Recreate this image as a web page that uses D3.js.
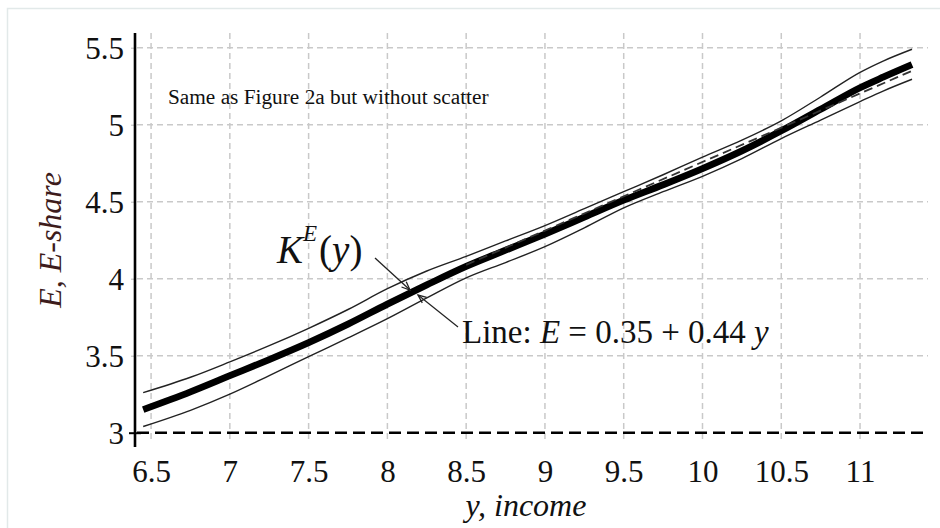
<!DOCTYPE html>
<html>
<head>
<meta charset="utf-8">
<script src="https://cdn.jsdelivr.net/npm/d3@7"></script>
<style>
  html, body { margin: 0; padding: 0; background: #fff; }
  svg { display: block; }
  text { font-family: "Liberation Serif", "Times New Roman", serif; }
</style>
</head>
<body>
<svg id="chart" width="940" height="528"></svg>
<script>
// ---- data ----
const incomeX   = [6.45, 6.75, 7, 7.25, 7.5, 7.75, 8, 8.25, 8.5, 8.75, 9, 9.25, 9.5, 9.75, 10, 10.25, 10.5, 10.75, 11, 11.15, 11.33];
const kernelE   = [3.15, 3.265, 3.37, 3.475, 3.585, 3.705, 3.835, 3.96, 4.08, 4.185, 4.29, 4.40, 4.51, 4.61, 4.715, 4.83, 4.96, 5.10, 5.24, 5.31, 5.39];
const upperE    = [3.26, 3.36, 3.46, 3.565, 3.678, 3.80, 3.935, 4.05, 4.145, 4.245, 4.345, 4.455, 4.565, 4.675, 4.79, 4.90, 5.025, 5.18, 5.34, 5.415, 5.49];
const lowerE    = [3.04, 3.145, 3.25, 3.37, 3.494, 3.615, 3.74, 3.875, 4.005, 4.105, 4.208, 4.33, 4.46, 4.565, 4.665, 4.78, 4.91, 5.03, 5.15, 5.22, 5.295];
const fitLineX  = [8.5, 11.33];
const fitLineE  = [4.09, 5.35];
const xTicks    = [6.5, 7, 7.5, 8, 8.5, 9, 9.5, 10, 10.5, 11];
const yTicks    = [3, 3.5, 4, 4.5, 5, 5.5];
const titleText = "Same as Figure 2a but without scatter";
const xLabel    = "y, income";
const yLabel    = "E, E-share";

const svg = d3.select("#chart");

// outer frame
svg.append("rect").attr("x", 7.5).attr("y", 8.5).attr("width", 940).attr("height", 530)
  .attr("fill", "none").attr("stroke", "#e2e9e9").attr("stroke-width", 1.5);

const x = d3.scaleLinear().domain([6.398, 11.425]).range([135, 927]);
const y = d3.scaleLinear().domain([3, 5.5]).range([432.7, 47.7]);

// grid
const grid = svg.append("g");
grid.selectAll("line.v").data(xTicks).join("line")
  .attr("x1", d => x(d)).attr("x2", d => x(d)).attr("y1", 33).attr("y2", 441)
  .attr("stroke", "#c9c9c9").attr("stroke-width", 1.5).attr("stroke-dasharray", "6,4");
grid.selectAll("line.h").data(yTicks.filter(d => d > 3)).join("line")
  .attr("x1", 137).attr("x2", 928).attr("y1", d => y(d)).attr("y2", d => y(d))
  .attr("stroke", "#c9c9c9").attr("stroke-width", 1.5).attr("stroke-dasharray", "6,4");

// baseline at E = 3 (dashed)
svg.append("line").attr("x1", 137).attr("x2", 927).attr("y1", y(3)).attr("y2", y(3))
  .attr("stroke", "#000").attr("stroke-width", 2.6).attr("stroke-dasharray", "12,6");

// y axis
const yAxis = d3.axisLeft(y).tickValues(yTicks).tickSize(5).tickFormat(d3.format("~g"));
const yg = svg.append("g").attr("transform", "translate(135,0)").call(yAxis);
yg.select(".domain").remove();
yg.selectAll(".tick line").attr("stroke", "#bbb").attr("x2", -4);
yg.selectAll(".tick text").attr("font-size", 31).attr("fill", "#111")
  .attr("font-family", "Liberation Serif, serif").attr("x", -11).attr("dy", "0.36em");
yg.selectAll(".tick").filter(d => d === 3).select("line").attr("stroke", "#000").attr("stroke-width", 2).attr("x1", 6).attr("x2", -6);
svg.append("line").attr("x1", 135).attr("x2", 135).attr("y1", 33).attr("y2", 447)
  .attr("stroke", "#000").attr("stroke-width", 2.6);

// x axis labels
const xAxis = d3.axisBottom(x).tickValues(xTicks).tickSize(0).tickFormat(d3.format("~g"));
const xg = svg.append("g").attr("transform", "translate(0," + 453 + ")").call(xAxis);
xg.select(".domain").remove();
xg.selectAll(".tick text").attr("font-size", 31).attr("fill", "#111")
  .attr("font-family", "Liberation Serif, serif").attr("y", 0).attr("dy", "0.95em");

// series
const pts = (xs, ys) => xs.map((v, i) => [v, ys[i]]);
const line = d3.line().x(d => x(d[0])).y(d => y(d[1])).curve(d3.curveMonotoneX);

svg.append("path").datum(pts(incomeX, upperE)).attr("d", line)
  .attr("fill", "none").attr("stroke", "#222").attr("stroke-width", 1.4);
svg.append("path").datum(pts(incomeX, lowerE)).attr("d", line)
  .attr("fill", "none").attr("stroke", "#222").attr("stroke-width", 1.4);
svg.append("path").datum(pts(incomeX, kernelE)).attr("d", line)
  .attr("fill", "none").attr("stroke", "#000").attr("stroke-width", 6.8).attr("stroke-linecap", "butt");
svg.append("path").datum(pts(fitLineX, fitLineE)).attr("d", d3.line().x(d => x(d[0])).y(d => y(d[1])))
  .attr("fill", "none").attr("stroke", "#333").attr("stroke-width", 1.8).attr("stroke-dasharray", "9,5");

// title
svg.append("text").attr("x", 168).attr("y", 104).attr("font-size", 21.3).attr("fill", "#111").text(titleText);

// axis titles
svg.append("text").attr("x", 526).attr("y", 516).attr("text-anchor", "middle")
  .attr("font-size", 32).attr("font-style", "italic").attr("fill", "#111").text(xLabel);
svg.append("text").attr("transform", "translate(61,240) rotate(-90)").attr("text-anchor", "middle")
  .attr("font-size", 32).attr("font-style", "italic").attr("fill", "#3d1c1c").text(yLabel);

// annotations
const ann = svg.append("text").attr("x", 277).attr("y", 263).attr("font-size", 39).attr("fill", "#111");
ann.append("tspan").attr("font-style", "italic").text("K");
ann.append("tspan").attr("font-style", "italic").attr("font-size", 23).attr("dx", 0).attr("dy", -22).text("E");
ann.append("tspan").attr("dy", 22).attr("dx", 2).text("(");
ann.append("tspan").attr("font-style", "italic").text("y");
ann.append("tspan").text(")");

const ann2 = svg.append("text").attr("x", 462).attr("y", 343).attr("font-size", 33).attr("fill", "#111");
ann2.append("tspan").text("Line: ");
ann2.append("tspan").attr("font-style", "italic").text("E");
ann2.append("tspan").text(" = 0.35 + 0.44 ");
ann2.append("tspan").attr("font-style", "italic").text("y");

// arrows
function arrow(x1, y1, x2, y2) {
  svg.append("line").attr("x1", x1).attr("y1", y1).attr("x2", x2).attr("y2", y2)
    .attr("stroke", "#222").attr("stroke-width", 1.3);
  const a = Math.atan2(y2 - y1, x2 - x1), L = 9, s = 0.4;
  svg.append("path").attr("d",
    `M${x2 - L * Math.cos(a - s)},${y2 - L * Math.sin(a - s)} L${x2},${y2} L${x2 - L * Math.cos(a + s)},${y2 - L * Math.sin(a + s)}`)
    .attr("fill", "none").attr("stroke", "#222").attr("stroke-width", 1.3);
}
arrow(375, 258, 410, 290);
arrow(458, 327, 418, 295);
</script>
</body>
</html>
